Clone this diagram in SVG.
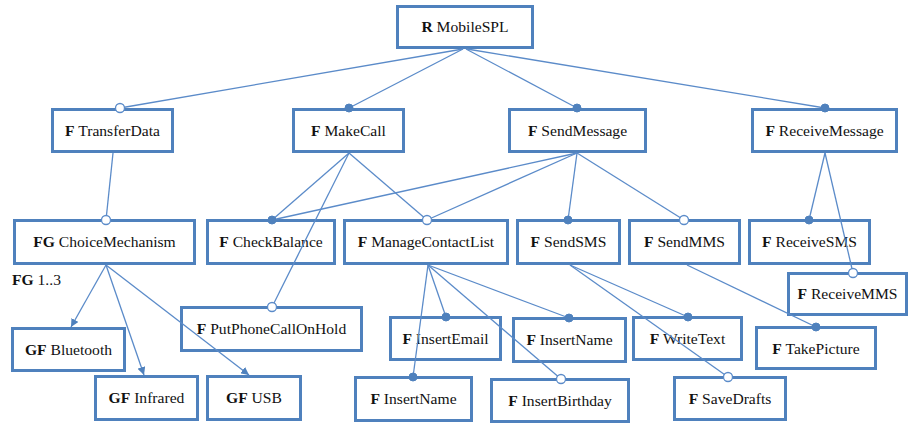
<svg xmlns="http://www.w3.org/2000/svg" width="909" height="423" viewBox="0 0 909 423">
  <style>
    .box { fill: #ffffff; stroke: #4f81bd; stroke-width: 3; }
    .lbl { font-family: "Liberation Serif", "Times New Roman", serif; font-size: 15.6px; fill: #111111; text-anchor: middle; }
    .k { font-weight: bold; }
    .edge { stroke: #5b8bc9; stroke-width: 1.3; fill: none; }
    .mand { fill: #4f81bd; stroke: #4f81bd; stroke-width: 1; }
    .opt { fill: #ffffff; stroke: #5b8bc9; stroke-width: 1.3; }
  </style>
  <defs>
    <marker id="arrow" viewBox="0 0 10 10" refX="10" refY="5" markerWidth="8" markerHeight="8" markerUnits="userSpaceOnUse" orient="auto">
      <path d="M0,0 L10,5 L0,10 z" fill="#4f81bd"/>
    </marker>
  </defs>
  <rect width="909" height="423" fill="#ffffff"/>

  <!-- feature nodes -->
  <g id="nodes">
    <g id="n-mobilespl"><rect class="box" x="397.5" y="6.5" width="135" height="41"/><text class="lbl" x="465" y="32"><tspan class="k">R</tspan> MobileSPL</text></g>
    <g id="n-transferdata"><rect class="box" x="52.5" y="109.5" width="120" height="42"/><text class="lbl" x="112.5" y="135.5"><tspan class="k">F</tspan> TransferData</text></g>
    <g id="n-makecall"><rect class="box" x="293.5" y="109.5" width="110" height="42"/><text class="lbl" x="348.5" y="135.5"><tspan class="k">F</tspan> MakeCall</text></g>
    <g id="n-sendmessage"><rect class="box" x="509.5" y="109.5" width="136" height="42"/><text class="lbl" x="577.5" y="135.5"><tspan class="k">F</tspan> SendMessage</text></g>
    <g id="n-receivemessage"><rect class="box" x="752.5" y="109.5" width="144" height="42"/><text class="lbl" x="824.5" y="135.5"><tspan class="k">F</tspan> ReceiveMessage</text></g>

    <g id="n-choicemechanism"><rect class="box" x="14.5" y="220.5" width="180" height="43"/><text class="lbl" x="104.5" y="247"><tspan class="k">FG</tspan> ChoiceMechanism</text></g>
    <g id="n-checkbalance"><rect class="box" x="207.5" y="220.5" width="127" height="43"/><text class="lbl" x="271" y="247"><tspan class="k">F</tspan> CheckBalance</text></g>
    <g id="n-managecontactlist"><rect class="box" x="344.5" y="220.5" width="163" height="43"/><text class="lbl" x="426" y="247"><tspan class="k">F</tspan> ManageContactList</text></g>
    <g id="n-sendsms"><rect class="box" x="517.5" y="220.5" width="102" height="43"/><text class="lbl" x="568.5" y="247"><tspan class="k">F</tspan> SendSMS</text></g>
    <g id="n-sendmms"><rect class="box" x="629.5" y="220.5" width="110" height="43"/><text class="lbl" x="684.5" y="247"><tspan class="k">F</tspan> SendMMS</text></g>
    <g id="n-receivesms"><rect class="box" x="749.5" y="220.5" width="120" height="43"/><text class="lbl" x="809.5" y="247"><tspan class="k">F</tspan> ReceiveSMS</text></g>
    <g id="n-receivemms"><rect class="box" x="788.5" y="273.5" width="118" height="41"/><text class="lbl" x="847.5" y="299"><tspan class="k">F</tspan> ReceiveMMS</text></g>

    <text id="fg-card" class="lbl" x="12" y="285" style="text-anchor:start"><tspan class="k">FG</tspan> 1..3</text>

    <g id="n-putphonecallonhold"><rect class="box" x="181.5" y="307.5" width="180" height="43"/><text class="lbl" x="271.5" y="334"><tspan class="k">F</tspan> PutPhoneCallOnHold</text></g>
    <g id="n-bluetooth"><rect class="box" x="12.5" y="328.5" width="112" height="42"/><text class="lbl" x="68.5" y="355"><tspan class="k">GF</tspan> Bluetooth</text></g>
    <g id="n-infrared"><rect class="box" x="95.5" y="376.5" width="102" height="43"/><text class="lbl" x="146.5" y="403"><tspan class="k">GF</tspan> Infrared</text></g>
    <g id="n-usb"><rect class="box" x="207.5" y="376.5" width="93" height="43"/><text class="lbl" x="254" y="403"><tspan class="k">GF</tspan> USB</text></g>
    <g id="n-insertemail"><rect class="box" x="390.5" y="317.5" width="110" height="42"/><text class="lbl" x="445.5" y="344"><tspan class="k">F</tspan> InsertEmail</text></g>
    <g id="n-insertname-1"><rect class="box" x="355.5" y="377.5" width="116" height="43"/><text class="lbl" x="413.5" y="404"><tspan class="k">F</tspan> InsertName</text></g>
    <g id="n-insertname-2"><rect class="box" x="513.5" y="318.5" width="112" height="43"/><text class="lbl" x="569.5" y="345"><tspan class="k">F</tspan> InsertName</text></g>
    <g id="n-writetext"><rect class="box" x="633.5" y="317.5" width="108" height="42"/><text class="lbl" x="687.5" y="344"><tspan class="k">F</tspan> WriteText</text></g>
    <g id="n-takepicture"><rect class="box" x="756.5" y="327.5" width="119" height="41"/><text class="lbl" x="816" y="353.5"><tspan class="k">F</tspan> TakePicture</text></g>
    <g id="n-insertbirthday"><rect class="box" x="491.5" y="379.5" width="137" height="42"/><text class="lbl" x="560" y="406"><tspan class="k">F</tspan> InsertBirthday</text></g>
    <g id="n-savedrafts"><rect class="box" x="674.5" y="377.5" width="111" height="42"/><text class="lbl" x="730" y="404"><tspan class="k">F</tspan> SaveDrafts</text></g>
  </g>

  <!-- parent-child connectors -->
  <g id="connectors">
    <line class="edge" x1="463" y1="49" x2="120" y2="108"/>
    <line class="edge" x1="463" y1="49" x2="349" y2="108"/>
    <line class="edge" x1="466" y1="49" x2="577" y2="108"/>
    <line class="edge" x1="467" y1="49" x2="825" y2="108"/>

    <line class="edge" x1="113" y1="153" x2="106" y2="220"/>

    <line class="edge" x1="349" y1="153" x2="272" y2="220"/>
    <line class="edge" x1="349" y1="153" x2="272" y2="307"/>
    <line class="edge" x1="349" y1="153" x2="427" y2="220"/>

    <line class="edge" x1="577" y1="153" x2="272" y2="220"/>
    <line class="edge" x1="577" y1="153" x2="427" y2="220"/>
    <line class="edge" x1="577" y1="153" x2="568" y2="220"/>
    <line class="edge" x1="577" y1="153" x2="684" y2="220"/>

    <line class="edge" x1="825" y1="153" x2="809" y2="220"/>
    <line class="edge" x1="825" y1="153" x2="853" y2="273"/>

    <line class="edge" x1="106" y1="265" x2="71" y2="327" marker-end="url(#arrow)"/>
    <line class="edge" x1="106" y1="265" x2="144" y2="375" marker-end="url(#arrow)"/>
    <line class="edge" x1="106" y1="265" x2="249" y2="375" marker-end="url(#arrow)"/>

    <line class="edge" x1="428" y1="265" x2="446" y2="317"/>
    <line class="edge" x1="428" y1="265" x2="413" y2="377"/>
    <line class="edge" x1="428" y1="265" x2="569" y2="318"/>
    <line class="edge" x1="428" y1="265" x2="561" y2="379"/>

    <line class="edge" x1="570" y1="265" x2="688" y2="317"/>
    <line class="edge" x1="570" y1="265" x2="728" y2="377"/>

    <line class="edge" x1="687" y1="265" x2="816" y2="327"/>

    <!-- mandatory ends -->
    <circle class="mand" cx="349" cy="108" r="4"/>
    <circle class="mand" cx="577" cy="108" r="4"/>
    <circle class="mand" cx="825" cy="108" r="4"/>
    <circle class="mand" cx="272" cy="220" r="4"/>
    <circle class="mand" cx="568" cy="220" r="4"/>
    <circle class="mand" cx="809" cy="220" r="4"/>
    <circle class="mand" cx="446" cy="317" r="4"/>
    <circle class="mand" cx="413" cy="377" r="4"/>
    <circle class="mand" cx="569" cy="318" r="4"/>
    <circle class="mand" cx="688" cy="317" r="4"/>
    <circle class="mand" cx="816" cy="327" r="4"/>

    <!-- optional ends -->
    <circle class="opt" cx="120" cy="108" r="4.5"/>
    <circle class="opt" cx="106" cy="220" r="4.5"/>
    <circle class="opt" cx="427" cy="220" r="4.5"/>
    <circle class="opt" cx="684" cy="220" r="4.5"/>
    <circle class="opt" cx="853" cy="273" r="4.5"/>
    <circle class="opt" cx="272" cy="307" r="4.5"/>
    <circle class="opt" cx="561" cy="379" r="4.5"/>
    <circle class="opt" cx="728" cy="377" r="4.5"/>
  </g>
</svg>
